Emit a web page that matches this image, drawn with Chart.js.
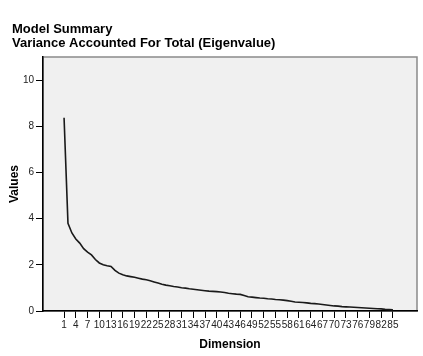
<!DOCTYPE html>
<html>
<head>
<meta charset="utf-8">
<script src="https://cdn.jsdelivr.net/npm/chart.js@4"></script>
<style>
  html, body { margin: 0; padding: 0; background: #fff; }
  #wrap { width: 423px; height: 356px; position: relative; }
</style>
</head>
<body>
<div id="wrap"><canvas id="chart" width="423" height="356"></canvas></div>
<script>
const titleLines = ['Model Summary', 'Variance Accounted For Total (Eigenvalue)'];

const dimensions = [];
for (let i = 1; i <= 85; i++) dimensions.push(i);

const eigenvalues = [
    8.37, 3.80, 3.38, 3.12, 2.94, 2.70, 2.55, 2.43, 2.23, 2.08,
    2.00, 1.96, 1.93, 1.76, 1.64, 1.57, 1.52, 1.49, 1.46, 1.42,
    1.38, 1.35, 1.31, 1.26, 1.21, 1.16, 1.12, 1.09, 1.06, 1.04,
    1.01, 0.99, 0.96, 0.94, 0.92, 0.90, 0.88, 0.86, 0.85, 0.84,
    0.82, 0.80, 0.77, 0.75, 0.73, 0.72, 0.67, 0.62, 0.60, 0.58,
    0.56, 0.55, 0.53, 0.52, 0.50, 0.49, 0.47, 0.45, 0.42, 0.39,
    0.38, 0.37, 0.35, 0.33, 0.32, 0.30, 0.28, 0.26, 0.24, 0.22,
    0.21, 0.19, 0.18, 0.17, 0.16, 0.15, 0.14, 0.13, 0.12, 0.11,
    0.10, 0.09, 0.07, 0.06, 0.05
];

const xTicks = [1, 4, 7, 10, 13, 16, 19, 22, 25, 28, 31, 34, 37, 40, 43,
    46, 49, 52, 55, 58, 61, 64, 67, 70, 73, 76, 79, 82, 85];
const yTicks = [0, 2, 4, 6, 8, 10];

const FONT = '"Liberation Sans", Arial, sans-serif';

// grey plot background + frame, and the two-line heading
const frame = {
    id: 'frame',
    beforeDraw(chart) {
        const { ctx, chartArea: a } = chart;
        ctx.save();
        ctx.fillStyle = '#f0f0f0';
        ctx.fillRect(a.left, a.top, a.right - a.left, a.bottom - a.top);
        ctx.strokeStyle = '#8a8a8a';
        ctx.lineWidth = 1.5;
        ctx.strokeRect(a.left, a.top, a.right - a.left, a.bottom - a.top);
        ctx.restore();
    },
    afterDraw(chart) {
        const ctx = chart.ctx;
        ctx.save();
        ctx.fillStyle = '#000';
        ctx.font = 'bold 13px ' + FONT;
        ctx.textBaseline = 'alphabetic';
        ctx.fillText(titleLines[0], 12, 33);
        ctx.fillText(titleLines[1], 12, 47);
        ctx.restore();
    }
};

const ctx = document.getElementById('chart').getContext('2d');
new Chart(ctx, {
    type: 'line',
    data: {
        datasets: [{
            data: eigenvalues.map((v, i) => ({ x: dimensions[i], y: v })),
            borderColor: '#1a1a1a',
            borderWidth: 1.6,
            pointRadius: 0,
            tension: 0,
            fill: false
        }]
    },
    options: {
        responsive: false,
        animation: false,
        layout: { padding: { top: 57, right: 6, left: 0, bottom: 0 } },
        plugins: {
            legend: { display: false },
            tooltip: { enabled: false }
        },
        scales: {
            x: {
                type: 'linear',
                min: -4.38,
                max: 91.15,
                afterBuildTicks: s => { s.ticks = xTicks.map(v => ({ value: v })); },
                afterFit: s => { s.height = 45; },
                border: { color: '#000', width: 1.5 },
                grid: { drawOnChartArea: false, drawTicks: true, tickLength: 7, color: '#000', lineWidth: 1 },
                ticks: {
                    autoSkip: false,
                    maxRotation: 0,
                    padding: 1,
                    color: '#222',
                    font: { family: FONT, size: 10 }
                },
                title: {
                    display: true,
                    text: 'Dimension',
                    color: '#000',
                    font: { family: FONT, size: 12, weight: 'bold' },
                    padding: { top: 7 }
                }
            },
            y: {
                min: 0,
                max: 11,
                afterBuildTicks: s => { s.ticks = yTicks.map(v => ({ value: v })); },
                afterFit: s => { s.width = 43; },
                border: { color: '#000', width: 1.5 },
                grid: { drawOnChartArea: false, drawTicks: true, tickLength: 7, color: '#000', lineWidth: 1 },
                ticks: {
                    padding: 2,
                    color: '#222',
                    font: { family: FONT, size: 10 }
                },
                title: {
                    display: true,
                    text: 'Values',
                    color: '#000',
                    font: { family: FONT, size: 12, weight: 'bold' },
                    padding: { top: 7, bottom: 2 }
                }
            }
        }
    },
    plugins: [frame]
});
</script>
</body>
</html>
